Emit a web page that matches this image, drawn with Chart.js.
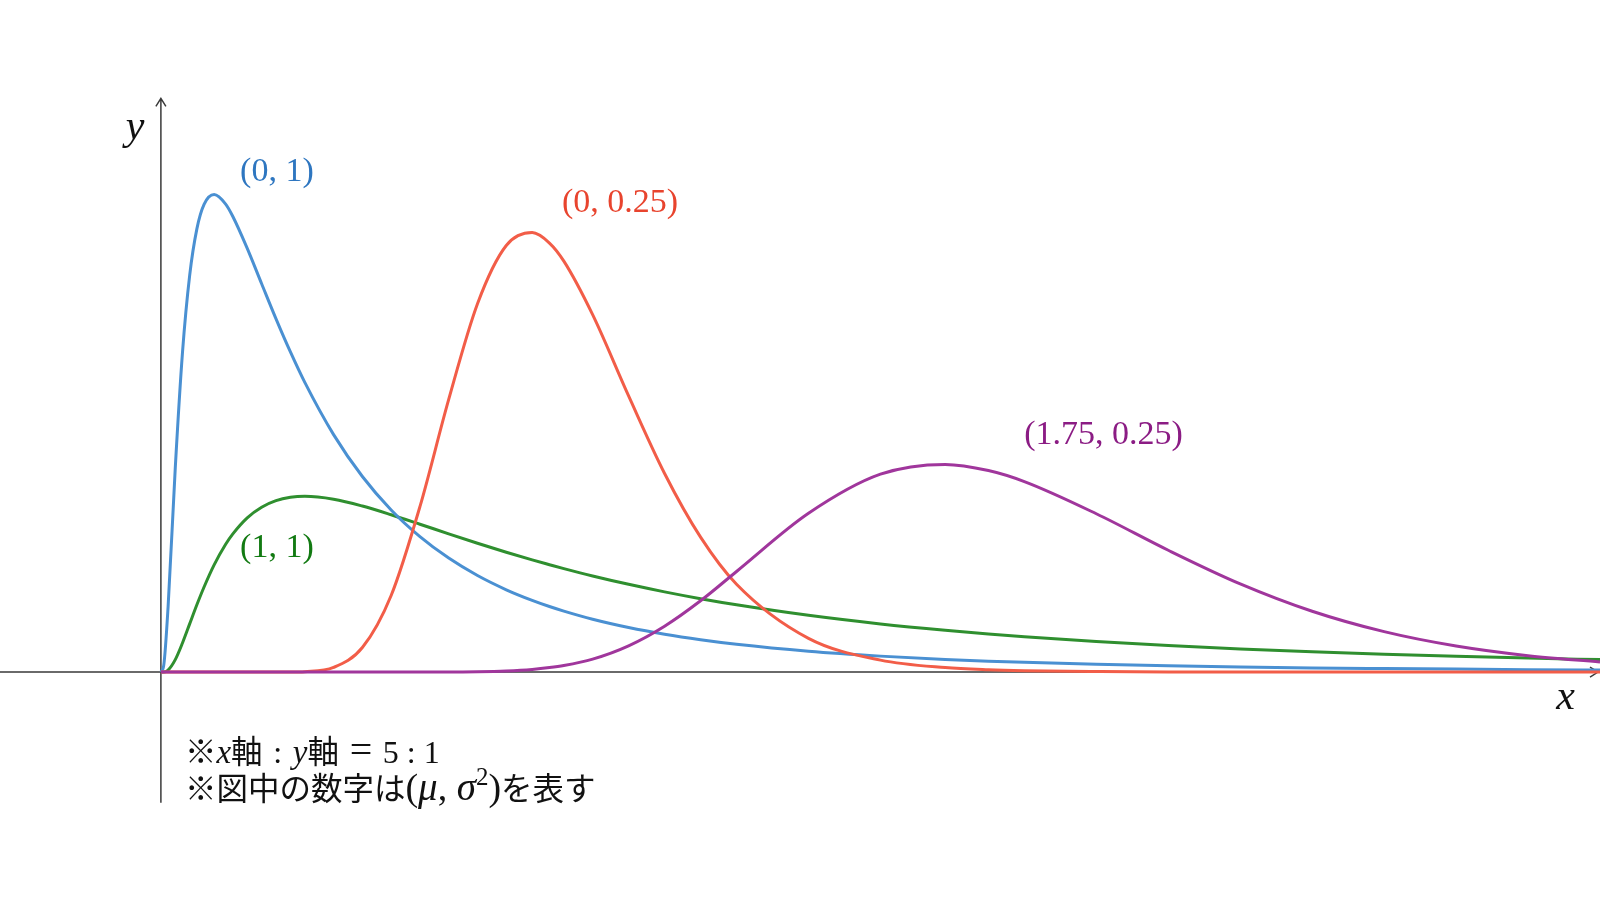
<!DOCTYPE html>
<html>
<head>
<meta charset="utf-8">
<script src="https://cdn.jsdelivr.net/npm/chart.js@4.4.1/dist/chart.umd.min.js"></script>
<style>
  html, body { margin: 0; padding: 0; background: #fff; }
  canvas { display: block; }
</style>
</head>
<body>
<canvas id="lognormChart" width="1600" height="900"></canvas>
<script>
// x の値（全系列で共通）
var xValues = [0, 0.02, 0.05, 0.1, 0.15, 0.2, 0.25, 0.3, 0.37, 0.45, 0.5, 0.6, 0.7, 0.8, 0.9,
  1.0, 1.2, 1.4, 1.6, 1.8, 2.0, 2.2, 2.4, 2.58, 2.7, 2.8, 3.0, 3.25, 3.5, 3.75, 4.0,
  4.5, 5.0, 5.45, 5.75, 6.0, 6.5, 7.0, 7.5, 8.0, 8.5, 9.0, 9.5, 10];

// (0, 1)
var blueValues = [0, 0.0095, 0.0898, 0.2816, 0.4399, 0.5463, 0.6104, 0.6441, 0.6577, 0.6445, 0.6274, 0.5835, 0.5348, 0.4864, 0.4408,
  0.3989, 0.3270, 0.2693, 0.2232, 0.1865, 0.1569, 0.1329, 0.1133, 0.0987, 0.0902, 0.0839, 0.0727, 0.0613, 0.0520, 0.0444, 0.0381,
  0.0286, 0.0219, 0.0174, 0.0150, 0.0134, 0.0107, 0.0086, 0.0070, 0.0057, 0.0048, 0.0040, 0.0033, 0.0028];

// (1, 1)
var greenValues = [0, 0, 0.0027, 0.0171, 0.0400, 0.0663, 0.0926, 0.1171, 0.1476, 0.1759, 0.1903, 0.2124, 0.2270, 0.2360, 0.2406,
  0.2420, 0.2380, 0.2286, 0.2166, 0.2036, 0.1903, 0.1773, 0.1649, 0.1544, 0.1478, 0.1424, 0.1323, 0.1208, 0.1104, 0.1010, 0.0926,
  0.0781, 0.0663, 0.0575, 0.0524, 0.0486, 0.0420, 0.0364, 0.0318, 0.0278, 0.0245, 0.0216, 0.0192, 0.0171];

// (0, 0.25)
var redValues = [0, 0, 0, 0, 0, 0, 0, 0, 0, 0, 0, 0, 0, 0, 0,
  0.0005, 0.0063, 0.0337, 0.1054, 0.2278, 0.3755, 0.5072, 0.5874, 0.6052, 0.5908, 0.5659, 0.4922, 0.3803, 0.2735, 0.1858, 0.1209,
  0.0464, 0.0164, 0.0061, 0.0031, 0.0018, 0.0006, 0, 0, 0, 0, 0, 0, 0];

// (1.75, 0.25)
var purpleValues = [0, 0, 0, 0, 0, 0, 0, 0, 0, 0, 0, 0, 0, 0, 0,
  0, 0, 0, 0, 0, 0, 0.0004, 0.0015, 0.0036, 0.0061, 0.0090, 0.0178, 0.0361, 0.0631, 0.0981, 0.1385,
  0.2186, 0.2725, 0.2860, 0.2775, 0.2623, 0.2180, 0.1677, 0.1214, 0.0837, 0.0556, 0.0358, 0.0225, 0.0139];

var xRange = [-1.118, 10];
var yRange = [-0.314, 0.9256];

function toPoints(ys) {
  return xValues.map(function(x, i) { return { x: x, y: ys[i] }; });
}

var mathFont = "'Liberation Serif', 'DejaVu Serif', serif";
var cjkFont = "'Noto Sans CJK JP', sans-serif";

// 文字を順番に描く（フォント混在用）
function drawRuns(ctx, runs, x, y) {
  runs.forEach(function(r) {
    ctx.font = r[1];
    ctx.fillText(r[0], x, y + (r[2] || 0));
    x += ctx.measureText(r[0]).width;
  });
}

var axesPlugin = {
  id: 'axesArrows',
  beforeDatasetsDraw: function(chart) {
    var ctx = chart.ctx, xs = chart.scales.x, ys = chart.scales.y;
    var x0 = xs.getPixelForValue(0), y0 = ys.getPixelForValue(0);
    var xr = xs.getPixelForValue(xRange[1]) - 2;
    var yt = ys.getPixelForValue(0.79), yb = ys.getPixelForValue(-0.18);
    ctx.save();
    ctx.strokeStyle = '#3a3a3a';
    ctx.lineWidth = 1.5;
    ctx.beginPath();
    ctx.moveTo(xs.left, y0); ctx.lineTo(xr, y0);
    ctx.moveTo(xr - 8, y0 - 5); ctx.lineTo(xr, y0); ctx.lineTo(xr - 8, y0 + 5);
    ctx.moveTo(x0, yb); ctx.lineTo(x0, yt);
    ctx.moveTo(x0 - 5, yt + 8); ctx.lineTo(x0, yt); ctx.lineTo(x0 + 5, yt + 8);
    ctx.stroke();
    ctx.restore();
  }
};

var textPlugin = {
  id: 'curveText',
  afterDatasetsDraw: function(chart) {
    var ctx = chart.ctx, xs = chart.scales.x, ys = chart.scales.y;
    function px(x) { return xs.getPixelForValue(x); }
    function py(y) { return ys.getPixelForValue(y); }
    ctx.save();
    ctx.textAlign = 'center';
    ctx.textBaseline = 'middle';
    ctx.font = '34px ' + mathFont;
    ctx.fillStyle = '#2e76c0'; ctx.fillText('(0, 1)', px(0.806), py(0.689));
    ctx.fillStyle = '#127a12'; ctx.fillText('(1, 1)', px(0.806), py(0.171));
    ctx.fillStyle = '#e8442e'; ctx.fillText('(0, 0.25)', px(3.19), py(0.646));
    ctx.fillStyle = '#8b1c84'; ctx.fillText('(1.75, 0.25)', px(6.55), py(0.326));

    ctx.fillStyle = '#111';
    ctx.font = 'italic 42px ' + mathFont;
    ctx.fillText('y', px(-0.18), py(0.749));
    ctx.fillText('x', px(9.76), py(-0.036));

    // 注記
    ctx.textAlign = 'left';
    ctx.textBaseline = 'alphabetic';
    var cj = '31.5px ' + cjkFont, mi = 'italic 33px ' + mathFont, mu = '32px ' + mathFont;
    drawRuns(ctx, [['※', cj], ['x', mi], ['軸', cj], ['\u2004:\u2004', mu], ['y', mi], ['軸', cj],
      ['\u2004', mu], ['=', '40px ' + mathFont], ['\u2004', mu], ['5 : 1', mu]],
      px(0.167), py(-0.1253));
    var m2 = '38px ' + mathFont, mi2 = 'italic 39px ' + mathFont;
    drawRuns(ctx, [['※図中の数字は', cj], ['(', m2], ['μ', mi2], [', ', m2], ['σ', mi2], ['2', '25px ' + mathFont, -15],
      [')', m2], ['を表す', cj]], px(0.167), py(-0.1763));
    ctx.restore();
  }
};

function lineSet(label, values, color) {
  return {
    label: label,
    data: toPoints(values),
    borderColor: color,
    borderWidth: 3,
    pointRadius: 0,
    fill: false,
    cubicInterpolationMode: 'monotone'
  };
}

new Chart(document.getElementById('lognormChart').getContext('2d'), {
  type: 'line',
  data: {
    datasets: [
      lineSet('(1.75, 0.25)', purpleValues, '#a0369c'),
      lineSet('(0, 0.25)', redValues, '#f25d48'),
      lineSet('(0, 1)', blueValues, '#4a90d2'),
      lineSet('(1, 1)', greenValues, '#2f8f2f')
    ]
  },
  options: {
    responsive: false,
    animation: false,
    devicePixelRatio: 1,
    layout: { padding: 0 },
    scales: {
      x: { type: 'linear', min: xRange[0], max: xRange[1], display: false },
      y: { type: 'linear', min: yRange[0], max: yRange[1], display: false }
    },
    plugins: { legend: { display: false }, tooltip: { enabled: false } }
  },
  plugins: [axesPlugin, textPlugin]
});
</script>
</body>
</html>
